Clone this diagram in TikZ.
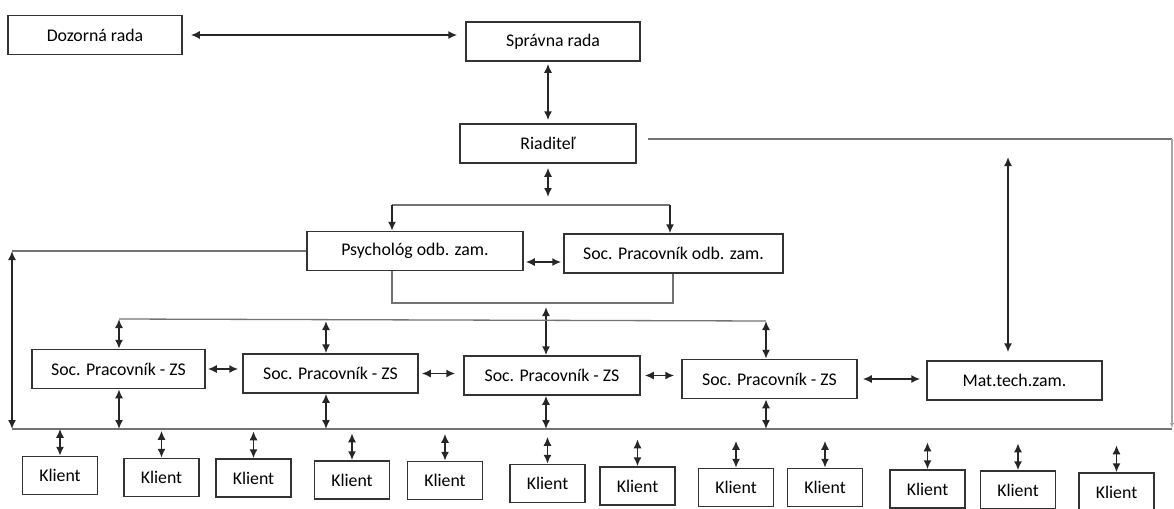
\documentclass[tikz,border=0pt]{standalone}
\usepackage{fontspec}
\setmainfont{Carlito}
\usetikzlibrary{calc, arrows.meta, positioning}
\tikzset{
    box/.style={draw=black!80, line width=0.75pt, fill=white, inner sep=0pt,
        minimum height=19.5pt, font=\fontsize{8.9}{10}\selectfont},
    dbl/.style={{Latex[length=4.5pt,width=4pt]}-{Latex[length=4.5pt,width=4pt]}, line width=0.8pt, black!85},
    sgl/.style={-{Latex[length=4.5pt,width=4pt]}, line width=0.8pt, black!85},
    ln/.style={line width=0.65pt, black!55}
}
\newcommand{\drawB}[5][87pt]{
    \node[box, minimum width=#1] (#4) at (#2,#3) {#5};
}
\newcommand{\drawK}[3]{
    \node[box, minimum width=37.5pt, minimum height=19pt] (#3) at (#1,#2) {Klient};
}
\newcommand{\drawD}[1]{
    \draw[dbl] ($(#1.north)+(0,-27)$) -- (#1.north);
}

\begin{document}
\begin{tikzpicture}[x=0.5pt, y=-0.5pt]
        \useasboundingbox (0,0) rectangle (1174,509);
        % Boxes
        \drawB{95}{35}{doz}{Dozorná rada}
        \drawB{553}{41.5}{spr}{Správna rada}
        \drawB[88pt]{548}{143.5}{ria}{Riaditeľ}
        \drawB[108pt]{415}{251}{psy}{Psychológ odb. zam.}
        \drawB[109.5pt]{673.5}{253.5}{sop}{Soc. Pracovník odb. zam.}
        \drawB[86.5pt]{118.5}{369}{zs1}{Soc. Pracovník - ZS}
        \drawB[87.5pt]{330.5}{373.5}{zs2}{Soc. Pracovník - ZS}
        \drawB[88pt]{552}{375.5}{zs3}{Soc. Pracovník - ZS}
        \drawB[87.5pt]{769.5}{379}{zs4}{Soc. Pracovník - ZS}
        \drawB[87.5pt]{1014.5}{380.5}{mat}{Mat.tech.zam.}
        % Clients
        \drawK{60}{475.5}{k1}
        \drawK{161.5}{477.5}{k2}
        \drawK{253.5}{478}{k3}
        \drawK{352}{480}{k4}
        \drawK{445}{480.5}{k5}
        \drawK{547.5}{483.5}{k6}
        \drawK{637.5}{486}{k7}
        \drawK{736}{487.5}{k8}
        \drawK{825}{487.5}{k9}
        \drawK{927.5}{489}{k10}
        \drawK{1018}{490}{k11}
        \drawK{1116.5}{492}{k12}
        % Points
        \coordinate (sl) at (392,205);
        \coordinate (sr) at (670,205);
        \coordinate (lt) at (12,251);
        \coordinate (ul) at (392,303);
        \coordinate (ur) at (673,303);
        \coordinate (um) at (546,303);
        \coordinate (tl) at (119,319);
        \coordinate (tm) at (326,321);
        \coordinate (tr) at (766,321);
        \coordinate (bl) at (12,429);
        \coordinate (br) at (1172,429);
        \coordinate (rt) at (1172,139);
        \coordinate (mt) at (1008,157);
        % Top
        \draw[dbl, shorten <=4pt, shorten >=4pt] (doz.east) -- (doz.east -| spr.west);
        \draw[dbl, shorten <=1.5pt, shorten >=1pt] (ria.north) -- (ria.north |- spr.south);
        \draw[dbl] ([yshift=-2pt]ria.south) -- ([yshift=4pt]ria.south |- sl);
        \draw[ln] (sl) -- (sr);
        \draw[sgl] (sl) -- (sl |- psy.north);
        \draw[sgl] (sr) -- (sr |- sop.north);
        \draw[dbl, shorten <=1pt, shorten >=1pt] ([yshift=-5.5pt]psy.east) -- ([yshift=-5.5pt]psy.east -| sop.west);
        \draw[ln] ([xshift=5.5pt]ria.east |- rt) -- (rt);
        \draw[ln, black!35, -{Latex[length=3pt,width=2pt]}] (rt) -- (br);
        \draw[dbl, shorten >=4pt] (mt) -- (mt |- mat.north);
        % Middle
        \draw[ln] (psy.west) -- (lt);
        \draw[dbl] (lt) -- (bl);
        \draw[ln] (ul |- psy.south) -- (ul) -- (ur) -- (ur |- sop.south);
        \draw[dbl, shorten <=2pt] (um) -- (um |- zs3.north);
        \draw[ln] (tl) -- (tr);
        \draw[dbl] (tl) -- (tl |- zs1.north);
        \draw[dbl] (tm) -- (tm |- zs2.north);
        \draw[dbl] (tr) -- (tr |- zs4.north);
        \draw[dbl, shorten <=1pt, shorten >=2pt] (zs1.east) -- (zs1.east -| zs2.west);
        \draw[dbl, shorten <=1.5pt, shorten >=4pt] (zs2.east) -- (zs2.east -| zs3.west);
        \draw[dbl, shorten <=2pt, shorten >=3.5pt] (zs3.east) -- (zs3.east -| zs4.west);
        \draw[dbl, shorten <=2.5pt, shorten >=3pt] (zs4.east) -- (zs4.east -| mat.west);
        % Bus
        \draw[ln] (bl) -- (br);
        \draw[dbl] (tl |- zs1.south) -- (tl |- bl);
        \draw[dbl] (tm |- zs2.south) -- (tm |- bl);
        \draw[dbl] (um |- zs3.south) -- (um |- bl);
        \draw[dbl] (tr |- zs4.south) -- (tr |- bl);
        % Client arrows
        \drawD{k1}
        \drawD{k2}
        \drawD{k3}
        \drawD{k4}
        \drawD{k5}
        \drawD{k6}
        \drawD{k7}
        \drawD{k8}
        \drawD{k9}
        \drawD{k10}
        \drawD{k11}
        \drawD{k12}
    \end{tikzpicture}
\end{document}
